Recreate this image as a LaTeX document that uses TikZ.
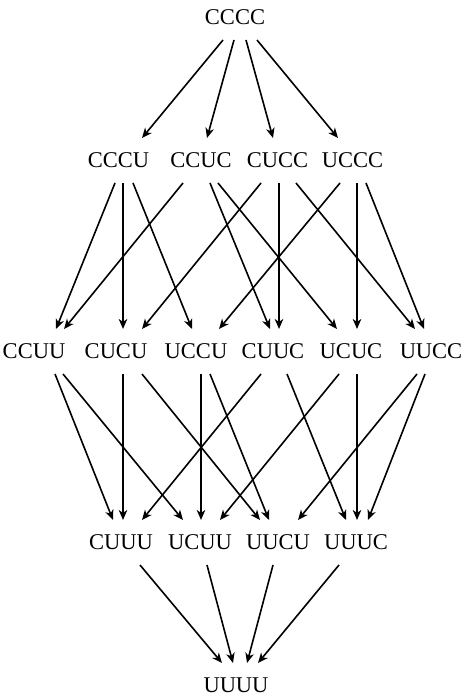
\documentclass[tikz,border=0pt]{standalone}
\usepackage{fontspec}
\setmainfont{Liberation Serif}
\usetikzlibrary{arrows.meta}
\tikzset{
  wordnode/.style={font=\fontsize{22.5}{26}\selectfont,inner xsep=0pt,inner ysep=15pt,text height=14.6pt,text depth=0pt},
  link/.style={line width=1.6pt,-{Stealth[length=10pt,width=8.5pt,inset=3pt]}}
}
\begin{document}
\begin{tikzpicture}[x=1pt,y=-1pt]
\useasboundingbox (0,0) rectangle (468,698);
\node[wordnode] (cccc) at (235,17.5) {CCCC};
\node[wordnode] (cccu) at (118.5,160.5) {CCCU};
\node[wordnode] (ccuc) at (201,160.5) {CCUC};
\node[wordnode] (cucc) at (277.5,160.5) {CUCC};
\node[wordnode] (uccc) at (352.5,160.5) {UCCC};
\node[wordnode] (ccuu) at (34,351.5) {CCUU};
\node[wordnode] (cucu) at (116,351.5) {CUCU};
\node[wordnode] (uccu) at (196,351.5) {UCCU};
\node[wordnode] (cuuc) at (273,351.5) {CUUC};
\node[wordnode] (ucuc) at (351,351.5) {UCUC};
\node[wordnode] (uucc) at (431,351.5) {UUCC};
\node[wordnode] (cuuu) at (121,542.5) {CUUU};
\node[wordnode] (ucuu) at (200,542.5) {UCUU};
\node[wordnode] (uucu) at (278,542.5) {UUCU};
\node[wordnode] (uuuc) at (356,542.5) {UUUC};
\node[wordnode] (uuuu) at (236,685.5) {UUUU};
\draw[link] ([xshift=-12pt]cccc.south) -- ([xshift=23.5pt]cccu.north);
\draw[link] ([xshift=-1pt]cccc.south) -- ([xshift=6pt]ccuc.north);
\draw[link] ([xshift=11pt]cccc.south) -- ([xshift=-4.5pt]cucc.north);
\draw[link] ([xshift=22pt]cccc.south) -- ([xshift=-14.5pt]uccc.north);
\draw[link] ([xshift=-3.5pt]cccu.south) -- ([xshift=22pt]ccuu.north);
\draw[link] ([xshift=4.5pt]cccu.south) -- ([xshift=7pt]cucu.north);
\draw[link] ([xshift=14.5pt]cccu.south) -- ([xshift=-4pt]uccu.north);
\draw[link] ([xshift=-18pt]ccuc.south) -- ([xshift=30pt]ccuu.north);
\draw[link] ([xshift=9pt]ccuc.south) -- ([xshift=-3pt]cuuc.north);
\draw[link] ([xshift=17pt]ccuc.south) -- ([xshift=-14pt]ucuc.north);
\draw[link] ([xshift=-16.5pt]cucc.south) -- ([xshift=26pt]cucu.north);
\draw[link] ([xshift=1.5pt]cucc.south) -- ([xshift=6pt]cuuc.north);
\draw[link] ([xshift=18.5pt]cucc.south) -- ([xshift=-16pt]uucc.north);
\draw[link] ([xshift=-12.5pt]uccc.south) -- ([xshift=23pt]uccu.north);
\draw[link] ([xshift=4.5pt]uccc.south) -- ([xshift=6pt]ucuc.north);
\draw[link] ([xshift=13.5pt]uccc.south) -- ([xshift=-7pt]uucc.north);
\draw[link] ([xshift=21pt]ccuu.south) -- ([xshift=-8pt]cuuu.north);
\draw[link] ([xshift=29pt]ccuu.south) -- ([xshift=-17pt]ucuu.north);
\draw[link] ([xshift=7pt]cucu.south) -- ([xshift=2pt]cuuu.north);
\draw[link] ([xshift=26pt]cucu.south) -- ([xshift=-18pt]uucu.north);
\draw[link] ([xshift=5pt]uccu.south) -- ([xshift=1pt]ucuu.north);
\draw[link] ([xshift=14pt]uccu.south) -- ([xshift=-9pt]uucu.north);
\draw[link] ([xshift=-12pt]cuuc.south) -- ([xshift=21pt]cuuu.north);
\draw[link] ([xshift=14pt]cuuc.south) -- ([xshift=-10pt]uuuc.north);
\draw[link] ([xshift=-12pt]ucuc.south) -- ([xshift=20pt]ucuu.north);
\draw[link] ([xshift=6pt]ucuc.south) -- ([xshift=1pt]uuuc.north);
\draw[link] ([xshift=-14pt]uucc.south) -- ([xshift=20pt]uucu.north);
\draw[link] ([xshift=-6pt]uucc.south) -- ([xshift=12pt]uuuc.north);
\draw[link] ([xshift=19pt]cuuu.south) -- ([xshift=-14pt]uuuu.north);
\draw[link] ([xshift=7pt]ucuu.south) -- ([xshift=-3pt]uuuu.north);
\draw[link] ([xshift=-5pt]uucu.south) -- ([xshift=11pt]uuuu.north);
\draw[link] ([xshift=-17pt]uuuc.south) -- ([xshift=22pt]uuuu.north);
\end{tikzpicture}
\end{document}
